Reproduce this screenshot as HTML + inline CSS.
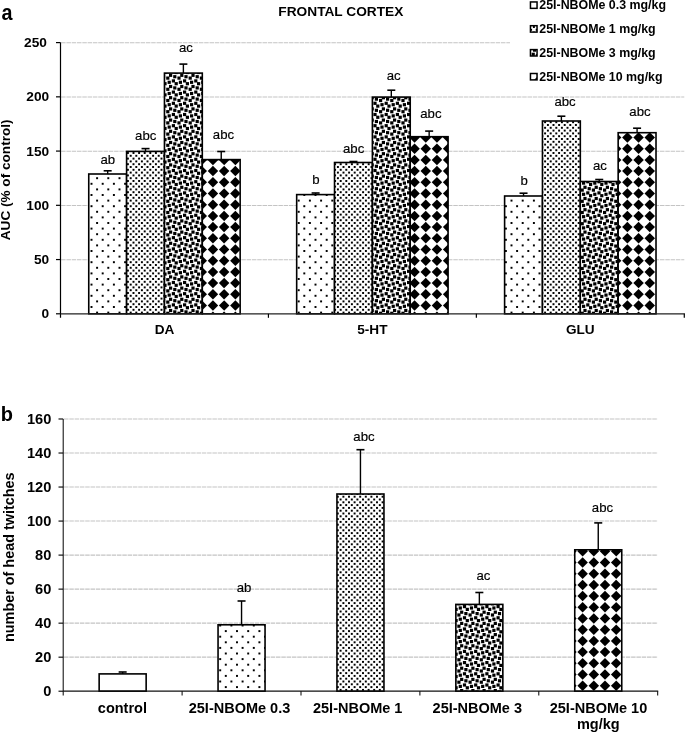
<!DOCTYPE html>
<html><head><meta charset="utf-8"><title>Figure</title>
<style>
html,body{margin:0;padding:0;background:#fff;width:685px;height:733px;overflow:hidden;}
svg{display:block;will-change:transform;}
text{font-family:"Liberation Sans", sans-serif;fill:#000;}
</style></head><body>
<svg width="685" height="733" viewBox="0 0 685 733">
<defs><g id="a05c"><rect x="-0.28" y="-0.28" width="1.95" height="1.95"/><rect x="5.32" y="5.32" width="1.95" height="1.95"/></g><pattern id="a05" patternUnits="userSpaceOnUse" x="0" y="0" width="56" height="56"><rect width="56" height="56" fill="#fff"/><use href="#a05c" x="-4.40" y="-1.70"/><use href="#a05c" x="-4.40" y="9.50"/><use href="#a05c" x="-4.40" y="20.70"/><use href="#a05c" x="-4.40" y="31.90"/><use href="#a05c" x="-4.40" y="43.10"/><use href="#a05c" x="-4.40" y="54.30"/><use href="#a05c" x="6.80" y="-1.70"/><use href="#a05c" x="6.80" y="9.50"/><use href="#a05c" x="6.80" y="20.70"/><use href="#a05c" x="6.80" y="31.90"/><use href="#a05c" x="6.80" y="43.10"/><use href="#a05c" x="6.80" y="54.30"/><use href="#a05c" x="18.00" y="-1.70"/><use href="#a05c" x="18.00" y="9.50"/><use href="#a05c" x="18.00" y="20.70"/><use href="#a05c" x="18.00" y="31.90"/><use href="#a05c" x="18.00" y="43.10"/><use href="#a05c" x="18.00" y="54.30"/><use href="#a05c" x="29.20" y="-1.70"/><use href="#a05c" x="29.20" y="9.50"/><use href="#a05c" x="29.20" y="20.70"/><use href="#a05c" x="29.20" y="31.90"/><use href="#a05c" x="29.20" y="43.10"/><use href="#a05c" x="29.20" y="54.30"/><use href="#a05c" x="40.40" y="-1.70"/><use href="#a05c" x="40.40" y="9.50"/><use href="#a05c" x="40.40" y="20.70"/><use href="#a05c" x="40.40" y="31.90"/><use href="#a05c" x="40.40" y="43.10"/><use href="#a05c" x="40.40" y="54.30"/><use href="#a05c" x="51.60" y="-1.70"/><use href="#a05c" x="51.60" y="9.50"/><use href="#a05c" x="51.60" y="20.70"/><use href="#a05c" x="51.60" y="31.90"/><use href="#a05c" x="51.60" y="43.10"/><use href="#a05c" x="51.60" y="54.30"/></pattern><g id="a20c"><rect x="-0.28" y="-0.28" width="1.95" height="1.95"/><rect x="5.32" y="-0.28" width="1.95" height="1.95"/><rect x="2.52" y="2.52" width="1.95" height="1.95"/><rect x="8.12" y="2.52" width="1.95" height="1.95"/><rect x="-0.28" y="5.32" width="1.95" height="1.95"/><rect x="5.32" y="5.32" width="1.95" height="1.95"/><rect x="2.52" y="8.12" width="1.95" height="1.95"/><rect x="8.12" y="8.12" width="1.95" height="1.95"/></g><pattern id="a20" patternUnits="userSpaceOnUse" x="0" y="0" width="56" height="56"><rect width="56" height="56" fill="#fff"/><use href="#a20c" x="-4.40" y="-1.70"/><use href="#a20c" x="-4.40" y="9.50"/><use href="#a20c" x="-4.40" y="20.70"/><use href="#a20c" x="-4.40" y="31.90"/><use href="#a20c" x="-4.40" y="43.10"/><use href="#a20c" x="-4.40" y="54.30"/><use href="#a20c" x="6.80" y="-1.70"/><use href="#a20c" x="6.80" y="9.50"/><use href="#a20c" x="6.80" y="20.70"/><use href="#a20c" x="6.80" y="31.90"/><use href="#a20c" x="6.80" y="43.10"/><use href="#a20c" x="6.80" y="54.30"/><use href="#a20c" x="18.00" y="-1.70"/><use href="#a20c" x="18.00" y="9.50"/><use href="#a20c" x="18.00" y="20.70"/><use href="#a20c" x="18.00" y="31.90"/><use href="#a20c" x="18.00" y="43.10"/><use href="#a20c" x="18.00" y="54.30"/><use href="#a20c" x="29.20" y="-1.70"/><use href="#a20c" x="29.20" y="9.50"/><use href="#a20c" x="29.20" y="20.70"/><use href="#a20c" x="29.20" y="31.90"/><use href="#a20c" x="29.20" y="43.10"/><use href="#a20c" x="29.20" y="54.30"/><use href="#a20c" x="40.40" y="-1.70"/><use href="#a20c" x="40.40" y="9.50"/><use href="#a20c" x="40.40" y="20.70"/><use href="#a20c" x="40.40" y="31.90"/><use href="#a20c" x="40.40" y="43.10"/><use href="#a20c" x="40.40" y="54.30"/><use href="#a20c" x="51.60" y="-1.70"/><use href="#a20c" x="51.60" y="9.50"/><use href="#a20c" x="51.60" y="20.70"/><use href="#a20c" x="51.60" y="31.90"/><use href="#a20c" x="51.60" y="43.10"/><use href="#a20c" x="51.60" y="54.30"/></pattern><g id="alcc"><rect x="2.60" y="-0.20" width="3.20" height="3.20"/><rect x="8.20" y="2.60" width="3.20" height="3.20"/><rect x="4.00" y="4.00" width="3.20" height="3.20"/><rect x="-0.20" y="5.40" width="3.20" height="3.20"/><rect x="5.40" y="8.20" width="3.20" height="3.20"/><rect x="9.60" y="9.60" width="3.20" height="3.20"/></g><pattern id="alc" patternUnits="userSpaceOnUse" x="0" y="0" width="56" height="56"><rect width="56" height="56" fill="#fff"/><use href="#alcc" x="-4.40" y="-1.70"/><use href="#alcc" x="-4.40" y="9.50"/><use href="#alcc" x="-4.40" y="20.70"/><use href="#alcc" x="-4.40" y="31.90"/><use href="#alcc" x="-4.40" y="43.10"/><use href="#alcc" x="-4.40" y="54.30"/><use href="#alcc" x="6.80" y="-1.70"/><use href="#alcc" x="6.80" y="9.50"/><use href="#alcc" x="6.80" y="20.70"/><use href="#alcc" x="6.80" y="31.90"/><use href="#alcc" x="6.80" y="43.10"/><use href="#alcc" x="6.80" y="54.30"/><use href="#alcc" x="18.00" y="-1.70"/><use href="#alcc" x="18.00" y="9.50"/><use href="#alcc" x="18.00" y="20.70"/><use href="#alcc" x="18.00" y="31.90"/><use href="#alcc" x="18.00" y="43.10"/><use href="#alcc" x="18.00" y="54.30"/><use href="#alcc" x="29.20" y="-1.70"/><use href="#alcc" x="29.20" y="9.50"/><use href="#alcc" x="29.20" y="20.70"/><use href="#alcc" x="29.20" y="31.90"/><use href="#alcc" x="29.20" y="43.10"/><use href="#alcc" x="29.20" y="54.30"/><use href="#alcc" x="40.40" y="-1.70"/><use href="#alcc" x="40.40" y="9.50"/><use href="#alcc" x="40.40" y="20.70"/><use href="#alcc" x="40.40" y="31.90"/><use href="#alcc" x="40.40" y="43.10"/><use href="#alcc" x="40.40" y="54.30"/><use href="#alcc" x="51.60" y="-1.70"/><use href="#alcc" x="51.60" y="9.50"/><use href="#alcc" x="51.60" y="20.70"/><use href="#alcc" x="51.60" y="31.90"/><use href="#alcc" x="51.60" y="43.10"/><use href="#alcc" x="51.60" y="54.30"/></pattern><g id="adic"><path d="M4.90 -0.35L10.15 4.90L4.90 10.15L-0.35 4.90Z"/></g><pattern id="adi" patternUnits="userSpaceOnUse" x="0" y="0" width="56" height="56"><rect width="56" height="56" fill="#fff"/><use href="#adic" x="-4.75" y="-1.80"/><use href="#adic" x="-4.75" y="9.40"/><use href="#adic" x="-4.75" y="20.60"/><use href="#adic" x="-4.75" y="31.80"/><use href="#adic" x="-4.75" y="43.00"/><use href="#adic" x="-4.75" y="54.20"/><use href="#adic" x="6.45" y="-1.80"/><use href="#adic" x="6.45" y="9.40"/><use href="#adic" x="6.45" y="20.60"/><use href="#adic" x="6.45" y="31.80"/><use href="#adic" x="6.45" y="43.00"/><use href="#adic" x="6.45" y="54.20"/><use href="#adic" x="17.65" y="-1.80"/><use href="#adic" x="17.65" y="9.40"/><use href="#adic" x="17.65" y="20.60"/><use href="#adic" x="17.65" y="31.80"/><use href="#adic" x="17.65" y="43.00"/><use href="#adic" x="17.65" y="54.20"/><use href="#adic" x="28.85" y="-1.80"/><use href="#adic" x="28.85" y="9.40"/><use href="#adic" x="28.85" y="20.60"/><use href="#adic" x="28.85" y="31.80"/><use href="#adic" x="28.85" y="43.00"/><use href="#adic" x="28.85" y="54.20"/><use href="#adic" x="40.05" y="-1.80"/><use href="#adic" x="40.05" y="9.40"/><use href="#adic" x="40.05" y="20.60"/><use href="#adic" x="40.05" y="31.80"/><use href="#adic" x="40.05" y="43.00"/><use href="#adic" x="40.05" y="54.20"/><use href="#adic" x="51.25" y="-1.80"/><use href="#adic" x="51.25" y="9.40"/><use href="#adic" x="51.25" y="20.60"/><use href="#adic" x="51.25" y="31.80"/><use href="#adic" x="51.25" y="43.00"/><use href="#adic" x="51.25" y="54.20"/></pattern><g id="b05c"><rect x="-0.28" y="-0.28" width="1.95" height="1.95"/><rect x="5.32" y="5.32" width="1.95" height="1.95"/></g><pattern id="b05" patternUnits="userSpaceOnUse" x="0" y="0" width="56" height="56"><rect width="56" height="56" fill="#fff"/><use href="#b05c" x="-4.50" y="-2.40"/><use href="#b05c" x="-4.50" y="8.80"/><use href="#b05c" x="-4.50" y="20.00"/><use href="#b05c" x="-4.50" y="31.20"/><use href="#b05c" x="-4.50" y="42.40"/><use href="#b05c" x="-4.50" y="53.60"/><use href="#b05c" x="6.70" y="-2.40"/><use href="#b05c" x="6.70" y="8.80"/><use href="#b05c" x="6.70" y="20.00"/><use href="#b05c" x="6.70" y="31.20"/><use href="#b05c" x="6.70" y="42.40"/><use href="#b05c" x="6.70" y="53.60"/><use href="#b05c" x="17.90" y="-2.40"/><use href="#b05c" x="17.90" y="8.80"/><use href="#b05c" x="17.90" y="20.00"/><use href="#b05c" x="17.90" y="31.20"/><use href="#b05c" x="17.90" y="42.40"/><use href="#b05c" x="17.90" y="53.60"/><use href="#b05c" x="29.10" y="-2.40"/><use href="#b05c" x="29.10" y="8.80"/><use href="#b05c" x="29.10" y="20.00"/><use href="#b05c" x="29.10" y="31.20"/><use href="#b05c" x="29.10" y="42.40"/><use href="#b05c" x="29.10" y="53.60"/><use href="#b05c" x="40.30" y="-2.40"/><use href="#b05c" x="40.30" y="8.80"/><use href="#b05c" x="40.30" y="20.00"/><use href="#b05c" x="40.30" y="31.20"/><use href="#b05c" x="40.30" y="42.40"/><use href="#b05c" x="40.30" y="53.60"/><use href="#b05c" x="51.50" y="-2.40"/><use href="#b05c" x="51.50" y="8.80"/><use href="#b05c" x="51.50" y="20.00"/><use href="#b05c" x="51.50" y="31.20"/><use href="#b05c" x="51.50" y="42.40"/><use href="#b05c" x="51.50" y="53.60"/></pattern><g id="b20c"><rect x="-0.28" y="-0.28" width="1.95" height="1.95"/><rect x="5.32" y="-0.28" width="1.95" height="1.95"/><rect x="2.52" y="2.52" width="1.95" height="1.95"/><rect x="8.12" y="2.52" width="1.95" height="1.95"/><rect x="-0.28" y="5.32" width="1.95" height="1.95"/><rect x="5.32" y="5.32" width="1.95" height="1.95"/><rect x="2.52" y="8.12" width="1.95" height="1.95"/><rect x="8.12" y="8.12" width="1.95" height="1.95"/></g><pattern id="b20" patternUnits="userSpaceOnUse" x="0" y="0" width="56" height="56"><rect width="56" height="56" fill="#fff"/><use href="#b20c" x="-4.50" y="-2.40"/><use href="#b20c" x="-4.50" y="8.80"/><use href="#b20c" x="-4.50" y="20.00"/><use href="#b20c" x="-4.50" y="31.20"/><use href="#b20c" x="-4.50" y="42.40"/><use href="#b20c" x="-4.50" y="53.60"/><use href="#b20c" x="6.70" y="-2.40"/><use href="#b20c" x="6.70" y="8.80"/><use href="#b20c" x="6.70" y="20.00"/><use href="#b20c" x="6.70" y="31.20"/><use href="#b20c" x="6.70" y="42.40"/><use href="#b20c" x="6.70" y="53.60"/><use href="#b20c" x="17.90" y="-2.40"/><use href="#b20c" x="17.90" y="8.80"/><use href="#b20c" x="17.90" y="20.00"/><use href="#b20c" x="17.90" y="31.20"/><use href="#b20c" x="17.90" y="42.40"/><use href="#b20c" x="17.90" y="53.60"/><use href="#b20c" x="29.10" y="-2.40"/><use href="#b20c" x="29.10" y="8.80"/><use href="#b20c" x="29.10" y="20.00"/><use href="#b20c" x="29.10" y="31.20"/><use href="#b20c" x="29.10" y="42.40"/><use href="#b20c" x="29.10" y="53.60"/><use href="#b20c" x="40.30" y="-2.40"/><use href="#b20c" x="40.30" y="8.80"/><use href="#b20c" x="40.30" y="20.00"/><use href="#b20c" x="40.30" y="31.20"/><use href="#b20c" x="40.30" y="42.40"/><use href="#b20c" x="40.30" y="53.60"/><use href="#b20c" x="51.50" y="-2.40"/><use href="#b20c" x="51.50" y="8.80"/><use href="#b20c" x="51.50" y="20.00"/><use href="#b20c" x="51.50" y="31.20"/><use href="#b20c" x="51.50" y="42.40"/><use href="#b20c" x="51.50" y="53.60"/></pattern><g id="blcc"><rect x="2.60" y="-0.20" width="3.20" height="3.20"/><rect x="8.20" y="2.60" width="3.20" height="3.20"/><rect x="4.00" y="4.00" width="3.20" height="3.20"/><rect x="-0.20" y="5.40" width="3.20" height="3.20"/><rect x="5.40" y="8.20" width="3.20" height="3.20"/><rect x="9.60" y="9.60" width="3.20" height="3.20"/></g><pattern id="blc" patternUnits="userSpaceOnUse" x="0" y="0" width="56" height="56"><rect width="56" height="56" fill="#fff"/><use href="#blcc" x="-4.50" y="-2.40"/><use href="#blcc" x="-4.50" y="8.80"/><use href="#blcc" x="-4.50" y="20.00"/><use href="#blcc" x="-4.50" y="31.20"/><use href="#blcc" x="-4.50" y="42.40"/><use href="#blcc" x="-4.50" y="53.60"/><use href="#blcc" x="6.70" y="-2.40"/><use href="#blcc" x="6.70" y="8.80"/><use href="#blcc" x="6.70" y="20.00"/><use href="#blcc" x="6.70" y="31.20"/><use href="#blcc" x="6.70" y="42.40"/><use href="#blcc" x="6.70" y="53.60"/><use href="#blcc" x="17.90" y="-2.40"/><use href="#blcc" x="17.90" y="8.80"/><use href="#blcc" x="17.90" y="20.00"/><use href="#blcc" x="17.90" y="31.20"/><use href="#blcc" x="17.90" y="42.40"/><use href="#blcc" x="17.90" y="53.60"/><use href="#blcc" x="29.10" y="-2.40"/><use href="#blcc" x="29.10" y="8.80"/><use href="#blcc" x="29.10" y="20.00"/><use href="#blcc" x="29.10" y="31.20"/><use href="#blcc" x="29.10" y="42.40"/><use href="#blcc" x="29.10" y="53.60"/><use href="#blcc" x="40.30" y="-2.40"/><use href="#blcc" x="40.30" y="8.80"/><use href="#blcc" x="40.30" y="20.00"/><use href="#blcc" x="40.30" y="31.20"/><use href="#blcc" x="40.30" y="42.40"/><use href="#blcc" x="40.30" y="53.60"/><use href="#blcc" x="51.50" y="-2.40"/><use href="#blcc" x="51.50" y="8.80"/><use href="#blcc" x="51.50" y="20.00"/><use href="#blcc" x="51.50" y="31.20"/><use href="#blcc" x="51.50" y="42.40"/><use href="#blcc" x="51.50" y="53.60"/></pattern><g id="bdic"><path d="M4.90 -0.35L10.15 4.90L4.90 10.15L-0.35 4.90Z"/></g><pattern id="bdi" patternUnits="userSpaceOnUse" x="0" y="0" width="56" height="56"><rect width="56" height="56" fill="#fff"/><use href="#bdic" x="-4.70" y="-2.40"/><use href="#bdic" x="-4.70" y="8.80"/><use href="#bdic" x="-4.70" y="20.00"/><use href="#bdic" x="-4.70" y="31.20"/><use href="#bdic" x="-4.70" y="42.40"/><use href="#bdic" x="-4.70" y="53.60"/><use href="#bdic" x="6.50" y="-2.40"/><use href="#bdic" x="6.50" y="8.80"/><use href="#bdic" x="6.50" y="20.00"/><use href="#bdic" x="6.50" y="31.20"/><use href="#bdic" x="6.50" y="42.40"/><use href="#bdic" x="6.50" y="53.60"/><use href="#bdic" x="17.70" y="-2.40"/><use href="#bdic" x="17.70" y="8.80"/><use href="#bdic" x="17.70" y="20.00"/><use href="#bdic" x="17.70" y="31.20"/><use href="#bdic" x="17.70" y="42.40"/><use href="#bdic" x="17.70" y="53.60"/><use href="#bdic" x="28.90" y="-2.40"/><use href="#bdic" x="28.90" y="8.80"/><use href="#bdic" x="28.90" y="20.00"/><use href="#bdic" x="28.90" y="31.20"/><use href="#bdic" x="28.90" y="42.40"/><use href="#bdic" x="28.90" y="53.60"/><use href="#bdic" x="40.10" y="-2.40"/><use href="#bdic" x="40.10" y="8.80"/><use href="#bdic" x="40.10" y="20.00"/><use href="#bdic" x="40.10" y="31.20"/><use href="#bdic" x="40.10" y="42.40"/><use href="#bdic" x="40.10" y="53.60"/><use href="#bdic" x="51.30" y="-2.40"/><use href="#bdic" x="51.30" y="8.80"/><use href="#bdic" x="51.30" y="20.00"/><use href="#bdic" x="51.30" y="31.20"/><use href="#bdic" x="51.30" y="42.40"/><use href="#bdic" x="51.30" y="53.60"/></pattern></defs>
<rect width="685" height="733" fill="#fff"/>
<line x1="61.10" y1="259.76" x2="684.29" y2="259.76" stroke="#c4c4c4" stroke-width="1.1" stroke-dasharray="4.5 0.8"/>
<line x1="61.10" y1="205.52" x2="684.29" y2="205.52" stroke="#c4c4c4" stroke-width="1.1" stroke-dasharray="4.5 0.8"/>
<line x1="61.10" y1="151.28" x2="684.29" y2="151.28" stroke="#c4c4c4" stroke-width="1.1" stroke-dasharray="4.5 0.8"/>
<line x1="61.10" y1="97.04" x2="684.29" y2="97.04" stroke="#c4c4c4" stroke-width="1.1" stroke-dasharray="4.5 0.8"/>
<line x1="61.10" y1="42.80" x2="684.29" y2="42.80" stroke="#c4c4c4" stroke-width="1.1" stroke-dasharray="4.5 0.8"/>
<rect x="88.75" y="174.00" width="37.85" height="139.80" fill="url(#a05)" stroke="#000" stroke-width="1.6"/>
<line x1="107.67" y1="174.00" x2="107.67" y2="170.80" stroke="#000" stroke-width="1.4"/>
<line x1="103.67" y1="170.80" x2="111.67" y2="170.80" stroke="#000" stroke-width="1.6"/>
<text x="107.75" y="163.50" font-size="13.2" text-anchor="middle" stroke="#000" stroke-width="0.18">ab</text>
<rect x="126.60" y="151.40" width="37.85" height="162.40" fill="url(#a20)" stroke="#000" stroke-width="1.6"/>
<line x1="145.53" y1="151.40" x2="145.53" y2="148.60" stroke="#000" stroke-width="1.4"/>
<line x1="141.53" y1="148.60" x2="149.53" y2="148.60" stroke="#000" stroke-width="1.6"/>
<text x="145.75" y="140.30" font-size="13.2" text-anchor="middle" stroke="#000" stroke-width="0.18">abc</text>
<rect x="164.45" y="73.10" width="37.85" height="240.70" fill="url(#alc)" stroke="#000" stroke-width="1.6"/>
<line x1="183.38" y1="73.10" x2="183.38" y2="64.10" stroke="#000" stroke-width="1.4"/>
<line x1="179.38" y1="64.10" x2="187.38" y2="64.10" stroke="#000" stroke-width="1.6"/>
<text x="185.95" y="52.30" font-size="13.2" text-anchor="middle" stroke="#000" stroke-width="0.18">ac</text>
<rect x="202.30" y="159.60" width="37.85" height="154.20" fill="url(#adi)" stroke="#000" stroke-width="1.6"/>
<line x1="221.23" y1="159.60" x2="221.23" y2="151.50" stroke="#000" stroke-width="1.4"/>
<line x1="217.23" y1="151.50" x2="225.23" y2="151.50" stroke="#000" stroke-width="1.6"/>
<text x="223.45" y="139.10" font-size="13.2" text-anchor="middle" stroke="#000" stroke-width="0.18">abc</text>
<rect x="296.68" y="194.60" width="37.85" height="119.20" fill="url(#a05)" stroke="#000" stroke-width="1.6"/>
<line x1="315.61" y1="194.60" x2="315.61" y2="193.00" stroke="#000" stroke-width="1.4"/>
<line x1="311.61" y1="193.00" x2="319.61" y2="193.00" stroke="#000" stroke-width="1.6"/>
<text x="315.90" y="184.10" font-size="13.2" text-anchor="middle" stroke="#000" stroke-width="0.18">b</text>
<rect x="334.53" y="162.50" width="37.85" height="151.30" fill="url(#a20)" stroke="#000" stroke-width="1.6"/>
<line x1="353.46" y1="162.50" x2="353.46" y2="161.50" stroke="#000" stroke-width="1.4"/>
<line x1="349.46" y1="161.50" x2="357.46" y2="161.50" stroke="#000" stroke-width="1.6"/>
<text x="353.65" y="152.50" font-size="13.2" text-anchor="middle" stroke="#000" stroke-width="0.18">abc</text>
<rect x="372.38" y="97.10" width="37.85" height="216.70" fill="url(#alc)" stroke="#000" stroke-width="1.6"/>
<line x1="391.31" y1="97.10" x2="391.31" y2="90.20" stroke="#000" stroke-width="1.4"/>
<line x1="387.31" y1="90.20" x2="395.31" y2="90.20" stroke="#000" stroke-width="1.6"/>
<text x="393.60" y="79.90" font-size="13.2" text-anchor="middle" stroke="#000" stroke-width="0.18">ac</text>
<rect x="410.23" y="136.70" width="37.85" height="177.10" fill="url(#adi)" stroke="#000" stroke-width="1.6"/>
<line x1="429.16" y1="136.70" x2="429.16" y2="131.10" stroke="#000" stroke-width="1.4"/>
<line x1="425.16" y1="131.10" x2="433.16" y2="131.10" stroke="#000" stroke-width="1.6"/>
<text x="430.90" y="117.80" font-size="13.2" text-anchor="middle" stroke="#000" stroke-width="0.18">abc</text>
<rect x="504.61" y="196.00" width="37.85" height="117.80" fill="url(#a05)" stroke="#000" stroke-width="1.6"/>
<line x1="523.53" y1="196.00" x2="523.53" y2="193.20" stroke="#000" stroke-width="1.4"/>
<line x1="519.53" y1="193.20" x2="527.53" y2="193.20" stroke="#000" stroke-width="1.6"/>
<text x="524.05" y="184.80" font-size="13.2" text-anchor="middle" stroke="#000" stroke-width="0.18">b</text>
<rect x="542.46" y="121.00" width="37.85" height="192.80" fill="url(#a20)" stroke="#000" stroke-width="1.6"/>
<line x1="561.38" y1="121.00" x2="561.38" y2="116.20" stroke="#000" stroke-width="1.4"/>
<line x1="557.38" y1="116.20" x2="565.38" y2="116.20" stroke="#000" stroke-width="1.6"/>
<text x="565.10" y="105.80" font-size="13.2" text-anchor="middle" stroke="#000" stroke-width="0.18">abc</text>
<rect x="580.31" y="181.50" width="37.85" height="132.30" fill="url(#alc)" stroke="#000" stroke-width="1.6"/>
<line x1="599.24" y1="181.50" x2="599.24" y2="179.50" stroke="#000" stroke-width="1.4"/>
<line x1="595.24" y1="179.50" x2="603.24" y2="179.50" stroke="#000" stroke-width="1.6"/>
<text x="599.85" y="170.40" font-size="13.2" text-anchor="middle" stroke="#000" stroke-width="0.18">ac</text>
<rect x="618.16" y="132.70" width="37.85" height="181.10" fill="url(#adi)" stroke="#000" stroke-width="1.6"/>
<line x1="637.09" y1="132.70" x2="637.09" y2="128.20" stroke="#000" stroke-width="1.4"/>
<line x1="633.09" y1="128.20" x2="641.09" y2="128.20" stroke="#000" stroke-width="1.6"/>
<text x="640.00" y="115.50" font-size="13.2" text-anchor="middle" stroke="#000" stroke-width="0.18">abc</text>
<line x1="60.50" y1="42.60" x2="60.50" y2="317.80" stroke="#000" stroke-width="1.2"/>
<line x1="60.50" y1="313.80" x2="684.89" y2="313.80" stroke="#222" stroke-width="1.3"/>
<line x1="56" y1="313.80" x2="60.50" y2="313.80" stroke="#000" stroke-width="1.2"/>
<line x1="56" y1="259.56" x2="60.50" y2="259.56" stroke="#000" stroke-width="1.2"/>
<line x1="56" y1="205.32" x2="60.50" y2="205.32" stroke="#000" stroke-width="1.2"/>
<line x1="56" y1="151.08" x2="60.50" y2="151.08" stroke="#000" stroke-width="1.2"/>
<line x1="56" y1="96.84" x2="60.50" y2="96.84" stroke="#000" stroke-width="1.2"/>
<line x1="56" y1="42.60" x2="60.50" y2="42.60" stroke="#000" stroke-width="1.2"/>
<line x1="268.43" y1="313.80" x2="268.43" y2="317.80" stroke="#000" stroke-width="1.2"/>
<line x1="476.36" y1="313.80" x2="476.36" y2="317.80" stroke="#000" stroke-width="1.2"/>
<line x1="684.29" y1="313.80" x2="684.29" y2="317.80" stroke="#000" stroke-width="1.2"/>
<text x="49.20" y="318.40" font-size="13.7" font-weight="bold" text-anchor="end">0</text>
<text x="49.20" y="264.16" font-size="13.7" font-weight="bold" text-anchor="end">50</text>
<text x="49.20" y="209.92" font-size="13.7" font-weight="bold" text-anchor="end">100</text>
<text x="49.20" y="155.68" font-size="13.7" font-weight="bold" text-anchor="end">150</text>
<text x="49.20" y="101.44" font-size="13.7" font-weight="bold" text-anchor="end">200</text>
<text x="46.90" y="47.20" font-size="13.7" font-weight="bold" text-anchor="end">250</text>
<text x="164.47" y="334" font-size="13.6" font-weight="bold" text-anchor="middle">DA</text>
<text x="372.39" y="334" font-size="13.6" font-weight="bold" text-anchor="middle">5-HT</text>
<text x="580.33" y="334" font-size="13.6" font-weight="bold" text-anchor="middle">GLU</text>
<text transform="translate(10.1,179.85) rotate(-90)" font-size="13.6" font-weight="bold" text-anchor="middle">AUC (% of control)</text>
<text transform="translate(1.6,20.1) scale(0.92,1)" font-size="21.5" font-weight="bold">a</text>
<text x="340.85" y="16.3" font-size="13.7" font-weight="bold" text-anchor="middle">FRONTAL CORTEX</text>
<rect x="510" y="0" width="175" height="88" fill="#fff"/>
<rect x="530.45" y="1.95" width="6.6" height="6.4" fill="url(#a05)" stroke="#000" stroke-width="1.5"/>
<text x="539.3" y="9.05" font-size="12.4" font-weight="bold">25I-NBOMe 0.3 mg/kg</text>
<rect x="530.45" y="25.70" width="6.6" height="6.4" fill="url(#a20)" stroke="#000" stroke-width="1.5"/>
<text x="539.3" y="32.80" font-size="12.4" font-weight="bold">25I-NBOMe 1 mg/kg</text>
<rect x="530.45" y="49.60" width="6.6" height="6.4" fill="url(#alc)" stroke="#000" stroke-width="1.5"/>
<text x="539.3" y="56.70" font-size="12.4" font-weight="bold">25I-NBOMe 3 mg/kg</text>
<rect x="530.45" y="73.50" width="6.6" height="6.4" fill="url(#adi)" stroke="#000" stroke-width="1.5"/>
<text x="539.3" y="80.60" font-size="12.4" font-weight="bold">25I-NBOMe 10 mg/kg</text>
<line x1="64.00" y1="657.17" x2="657.70" y2="657.17" stroke="#c4c4c4" stroke-width="1.1" stroke-dasharray="4.5 0.8"/>
<line x1="64.00" y1="623.15" x2="657.70" y2="623.15" stroke="#c4c4c4" stroke-width="1.1" stroke-dasharray="4.5 0.8"/>
<line x1="64.00" y1="589.12" x2="657.70" y2="589.12" stroke="#c4c4c4" stroke-width="1.1" stroke-dasharray="4.5 0.8"/>
<line x1="64.00" y1="555.10" x2="657.70" y2="555.10" stroke="#c4c4c4" stroke-width="1.1" stroke-dasharray="4.5 0.8"/>
<line x1="64.00" y1="521.07" x2="657.70" y2="521.07" stroke="#c4c4c4" stroke-width="1.1" stroke-dasharray="4.5 0.8"/>
<line x1="64.00" y1="487.04" x2="657.70" y2="487.04" stroke="#c4c4c4" stroke-width="1.1" stroke-dasharray="4.5 0.8"/>
<line x1="64.00" y1="453.02" x2="657.70" y2="453.02" stroke="#c4c4c4" stroke-width="1.1" stroke-dasharray="4.5 0.8"/>
<line x1="64.00" y1="418.99" x2="657.70" y2="418.99" stroke="#c4c4c4" stroke-width="1.1" stroke-dasharray="4.5 0.8"/>
<rect x="99.15" y="673.90" width="47.00" height="17.30" fill="#fff" stroke="#000" stroke-width="1.6"/>
<line x1="122.65" y1="673.90" x2="122.65" y2="672.00" stroke="#000" stroke-width="1.4"/>
<line x1="118.65" y1="672.00" x2="126.65" y2="672.00" stroke="#000" stroke-width="1.6"/>
<rect x="218.05" y="624.80" width="47.00" height="66.40" fill="url(#b05)" stroke="#000" stroke-width="1.6"/>
<line x1="241.55" y1="624.80" x2="241.55" y2="601.00" stroke="#000" stroke-width="1.4"/>
<line x1="237.55" y1="601.00" x2="245.55" y2="601.00" stroke="#000" stroke-width="1.6"/>
<text x="244.10" y="592.10" font-size="13.2" text-anchor="middle" stroke="#000" stroke-width="0.18">ab</text>
<rect x="336.95" y="494.00" width="47.00" height="197.20" fill="url(#b20)" stroke="#000" stroke-width="1.6"/>
<line x1="360.45" y1="494.00" x2="360.45" y2="449.70" stroke="#000" stroke-width="1.4"/>
<line x1="356.45" y1="449.70" x2="364.45" y2="449.70" stroke="#000" stroke-width="1.6"/>
<text x="363.95" y="441.00" font-size="13.2" text-anchor="middle" stroke="#000" stroke-width="0.18">abc</text>
<rect x="455.85" y="604.40" width="47.00" height="86.80" fill="url(#blc)" stroke="#000" stroke-width="1.6"/>
<line x1="479.35" y1="604.40" x2="479.35" y2="592.50" stroke="#000" stroke-width="1.4"/>
<line x1="475.35" y1="592.50" x2="483.35" y2="592.50" stroke="#000" stroke-width="1.6"/>
<text x="483.35" y="579.70" font-size="13.2" text-anchor="middle" stroke="#000" stroke-width="0.18">ac</text>
<rect x="574.75" y="549.80" width="47.00" height="141.40" fill="url(#bdi)" stroke="#000" stroke-width="1.6"/>
<line x1="598.25" y1="549.80" x2="598.25" y2="522.90" stroke="#000" stroke-width="1.4"/>
<line x1="594.25" y1="522.90" x2="602.25" y2="522.90" stroke="#000" stroke-width="1.6"/>
<text x="602.50" y="511.80" font-size="13.2" text-anchor="middle" stroke="#000" stroke-width="0.18">abc</text>
<line x1="63.20" y1="418.99" x2="63.20" y2="695.50" stroke="#000" stroke-width="1"/>
<line x1="63.20" y1="691.20" x2="658.20" y2="691.20" stroke="#111" stroke-width="1.2"/>
<line x1="58.5" y1="691.20" x2="63.20" y2="691.20" stroke="#000" stroke-width="1.1"/>
<text x="51.3" y="696.30" font-size="14.6" font-weight="bold" text-anchor="end">0</text>
<line x1="58.5" y1="657.17" x2="63.20" y2="657.17" stroke="#000" stroke-width="1.1"/>
<text x="51.3" y="662.27" font-size="14.6" font-weight="bold" text-anchor="end">20</text>
<line x1="58.5" y1="623.15" x2="63.20" y2="623.15" stroke="#000" stroke-width="1.1"/>
<text x="51.3" y="628.25" font-size="14.6" font-weight="bold" text-anchor="end">40</text>
<line x1="58.5" y1="589.12" x2="63.20" y2="589.12" stroke="#000" stroke-width="1.1"/>
<text x="51.3" y="594.22" font-size="14.6" font-weight="bold" text-anchor="end">60</text>
<line x1="58.5" y1="555.10" x2="63.20" y2="555.10" stroke="#000" stroke-width="1.1"/>
<text x="51.3" y="560.20" font-size="14.6" font-weight="bold" text-anchor="end">80</text>
<line x1="58.5" y1="521.07" x2="63.20" y2="521.07" stroke="#000" stroke-width="1.1"/>
<text x="51.3" y="526.17" font-size="14.6" font-weight="bold" text-anchor="end">100</text>
<line x1="58.5" y1="487.04" x2="63.20" y2="487.04" stroke="#000" stroke-width="1.1"/>
<text x="51.3" y="492.14" font-size="14.6" font-weight="bold" text-anchor="end">120</text>
<line x1="58.5" y1="453.02" x2="63.20" y2="453.02" stroke="#000" stroke-width="1.1"/>
<text x="51.3" y="458.12" font-size="14.6" font-weight="bold" text-anchor="end">140</text>
<line x1="58.5" y1="418.99" x2="63.20" y2="418.99" stroke="#000" stroke-width="1.1"/>
<text x="51.3" y="424.09" font-size="14.6" font-weight="bold" text-anchor="end">160</text>
<line x1="182.10" y1="691.20" x2="182.10" y2="695.50" stroke="#000" stroke-width="1"/>
<line x1="301.00" y1="691.20" x2="301.00" y2="695.50" stroke="#000" stroke-width="1"/>
<line x1="419.90" y1="691.20" x2="419.90" y2="695.50" stroke="#000" stroke-width="1"/>
<line x1="538.80" y1="691.20" x2="538.80" y2="695.50" stroke="#000" stroke-width="1"/>
<line x1="657.70" y1="691.20" x2="657.70" y2="695.50" stroke="#000" stroke-width="1"/>
<text x="122.40" y="713.1" font-size="14.5" font-weight="bold" text-anchor="middle">control</text>
<text x="239.50" y="713.1" font-size="14.5" font-weight="bold" text-anchor="middle">25I-NBOMe 0.3</text>
<text x="357.70" y="713.1" font-size="14.5" font-weight="bold" text-anchor="middle">25I-NBOMe 1</text>
<text x="477.30" y="713.1" font-size="14.5" font-weight="bold" text-anchor="middle">25I-NBOMe 3</text>
<text x="598.50" y="713.1" font-size="14.5" font-weight="bold" text-anchor="middle">25I-NBOMe 10</text>
<text x="598.3" y="728.7" font-size="14.5" font-weight="bold" text-anchor="middle">mg/kg</text>
<text transform="translate(13.5,557.25) rotate(-90)" font-size="14.4" font-weight="bold" text-anchor="middle">number of head twitches</text>
<text x="0.7" y="420.9" font-size="20" font-weight="bold">b</text>
</svg>
</body></html>
